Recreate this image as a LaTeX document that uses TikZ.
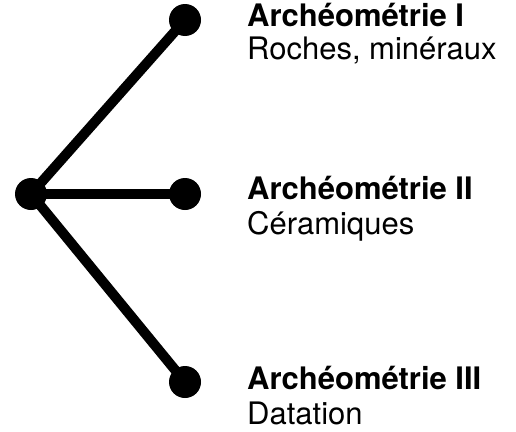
\documentclass[tikz,border=0pt]{standalone}
\usepackage{fontspec}
\setmainfont{TeX Gyre Heros}
\begin{document}
\begin{tikzpicture}[x=1pt,y=-1pt,
  dot/.style={circle,fill=black,inner sep=0pt,minimum size=32pt},
  link/.style={line width=10pt},
  head/.style={anchor=base west,inner sep=0pt,font=\fontsize{31}{35}\selectfont\bfseries},
  sub/.style={anchor=base west,inner sep=0pt,font=\fontsize{31}{35}\selectfont}]
\useasboundingbox (0,0) rectangle (516,431);
\node[dot] (r) at (31,194) {};
\node[dot] (a) at (185,20) {};
\node[dot] (b) at (185,194) {};
\node[dot] (c) at (185,382) {};
\draw[link] (r.center) -- (a.center);
\draw[link] (r.center) -- (b.center);
\draw[link] (r.center) -- (c.center);
\node[head] (ta) at (247,26) {Archéométrie I};
\node[sub] (sa) at (247,59) {Roches, minéraux};
\node[head] (tb) at (247,199) {Archéométrie II};
\node[sub] (sb) at (247,234) {Céramiques};
\node[head] (tc) at (247,389) {Archéométrie III};
\node[sub] (sc) at (247,424) {Datation};
\end{tikzpicture}
\end{document}
